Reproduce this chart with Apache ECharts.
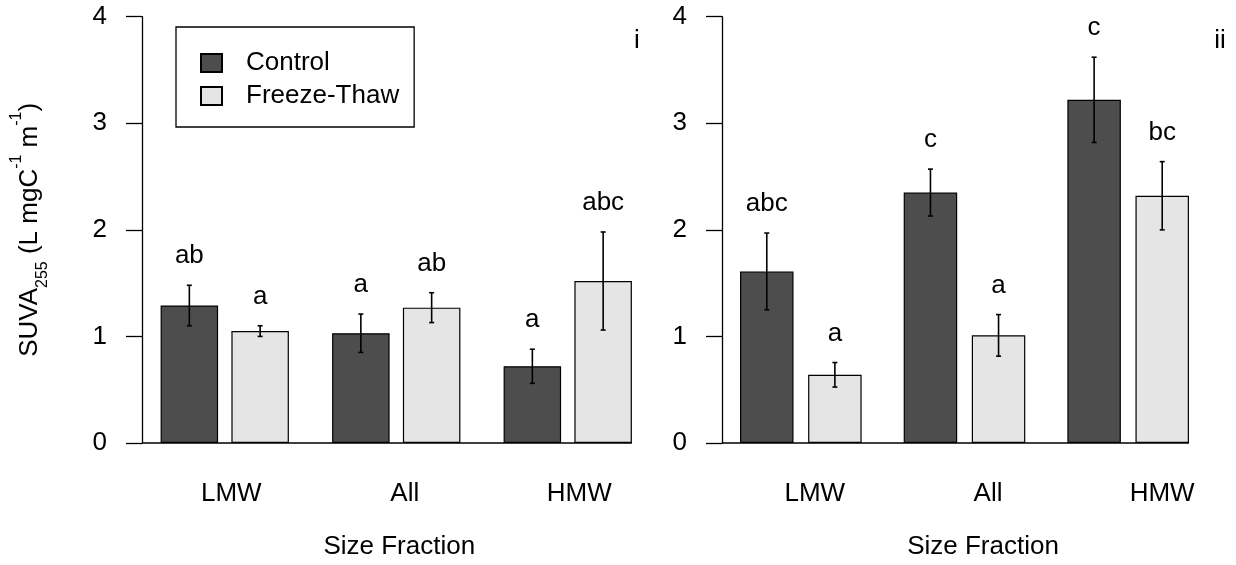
<!DOCTYPE html>
<html>
<head>
<meta charset="utf-8">
<title>SUVA255 by size fraction</title>
<script src="https://cdn.jsdelivr.net/npm/echarts@6/dist/echarts.min.js"></script>
<style>
  html, body { margin: 0; padding: 0; background: #ffffff; }
  #chart { width: 1236px; height: 565px; }
</style>
</head>
<body>
<div id="chart"></div>
<script>
// Size fractions on the x axis and the y tick values
const CATEGORIES = ['LMW', 'All', 'HMW'];
const Y_TICKS = [0, 1, 2, 3, 4];
const SERIES_NAMES = ['Control', 'Freeze-Thaw'];

// Panel i: means, standard errors and significance letters
const CONTROL_I = [1.29, 1.03, 0.72];
const CONTROL_I_SE = [0.19, 0.18, 0.16];
const CONTROL_I_LETTERS = ['ab', 'a', 'a'];
const THAW_I = [1.05, 1.27, 1.52];
const THAW_I_SE = [0.05, 0.14, 0.46];
const THAW_I_LETTERS = ['a', 'ab', 'abc'];

// Panel ii
const CONTROL_II = [1.61, 2.35, 3.22];
const CONTROL_II_SE = [0.36, 0.22, 0.40];
const CONTROL_II_LETTERS = ['abc', 'c', 'c'];
const THAW_II = [0.64, 1.01, 2.32];
const THAW_II_SE = [0.115, 0.195, 0.32];
const THAW_II_LETTERS = ['a', 'a', 'bc'];

const PANEL_TAGS = ['i', 'ii'];

const FONT = "'Liberation Sans', Arial, Helvetica, sans-serif";
const FS = 26;
const COLORS = ['#4d4d4d', '#e5e5e5'];

// Per-panel layout: grid box, bar geometry, label nudges
const PANELS = [
  { left: 139, width: 514.5, barWidth: 57.5, gapPx: 13.3,
    labelPad: [13, 17, 23], namePad: 6, tagX: 637 },
  { left: 719, width: 491, barWidth: 53.5, gapPx: 14.6,
    labelPad: [28, 47, 68], namePad: 37, tagX: 1220 }
];
const GRID_TOP = 16.7;
const GRID_BOTTOM = 121.3;

const chart = echarts.init(document.getElementById('chart'), null, { renderer: 'canvas' });

function xAxisFor(p, gi) {
  const rich = {};
  CATEGORIES.forEach((c, i) => {
    rich['c' + i] = { fontSize: FS, fontFamily: FONT, color: '#000', padding: [0, 0, 0, p.labelPad[i]] };
  });
  return {
    type: 'category', gridIndex: gi, data: CATEGORIES,
    axisLine: { show: false }, axisTick: { show: false },
    axisLabel: {
      margin: 38, interval: 0,
      formatter: (v, i) => '{c' + i + '|' + v + '}',
      rich: rich
    },
    name: 'Size Fraction', nameLocation: 'middle', nameGap: 91,
    nameTextStyle: { fontSize: FS, fontFamily: FONT, color: '#000', padding: [0, 0, 0, p.namePad] }
  };
}

function yAxisFor(gi, withName) {
  const ax = {
    type: 'value', gridIndex: gi, offset: -3,
    min: Y_TICKS[0], max: Y_TICKS[Y_TICKS.length - 1], interval: Y_TICKS[1] - Y_TICKS[0],
    axisLine: { show: true, lineStyle: { color: '#000', width: 1.3 } },
    axisTick: { show: true, length: 16, lineStyle: { color: '#000', width: 1.3 } },
    splitLine: { show: false },
    axisLabel: { margin: 35, fontSize: FS, fontFamily: FONT, color: '#000' }
  };
  if (withName) {
    ax.name = '{n|SUVA}{sub|255}{n| (L mgC}{sup|-1}{n| m}{sup|-1}{n|)}';
    ax.nameLocation = 'middle';
    ax.nameGap = 91;
    ax.nameTextStyle = {
      rich: {
        n: { fontSize: FS, fontFamily: FONT, color: '#000', lineHeight: 42 },
        sub: { fontSize: 16, fontFamily: FONT, color: '#000', lineHeight: 22, verticalAlign: 'bottom' },
        sup: { fontSize: 16, fontFamily: FONT, color: '#000', lineHeight: 16, verticalAlign: 'top' }
      }
    };
  }
  return ax;
}

function barSeries(name, values, gi, p, colorIdx) {
  return {
    type: 'bar', name: name, xAxisIndex: gi, yAxisIndex: gi,
    data: values, barWidth: p.barWidth,
    barGap: (p.gapPx / p.barWidth * 100).toFixed(1) + '%',
    itemStyle: { color: COLORS[colorIdx], borderColor: '#000', borderWidth: 1.2 },
    z: 2
  };
}

// Error bars with caps plus the letter above each bar
function errorSeries(values, se, letters, gi, p, side) {
  const shift = side * (p.barWidth + p.gapPx) / 2;
  return {
    type: 'custom', xAxisIndex: gi, yAxisIndex: gi, z: 5, silent: true,
    data: values.map((v, i) => [i, v, se[i]]),
    renderItem: function (params, api) {
      const i = api.value(0), v = api.value(1), e = api.value(2);
      const top = api.coord([i, v + e]);
      const bot = api.coord([i, v - e]);
      const x = top[0] + shift;
      const cap = 2.5;
      const ls = { stroke: '#000', lineWidth: 1.6 };
      return {
        type: 'group',
        children: [
          { type: 'line', shape: { x1: x, y1: top[1], x2: x, y2: bot[1] }, style: ls },
          { type: 'line', shape: { x1: x - cap, y1: top[1], x2: x + cap, y2: top[1] }, style: ls },
          { type: 'line', shape: { x1: x - cap, y1: bot[1], x2: x + cap, y2: bot[1] }, style: ls },
          { type: 'text', x: x, y: top[1] - 29,
            style: { text: letters[params.dataIndex], fill: '#000', font: FS + 'px ' + FONT,
                     align: 'center', verticalAlign: 'middle' } }
        ]
      };
    }
  };
}

// Base line running from the y axis to the right edge of the last bar
function baseSeries(gi, p) {
  return {
    type: 'custom', xAxisIndex: gi, yAxisIndex: gi, z: 4, silent: true,
    data: [[0, 0]],
    renderItem: function (params, api) {
      const last = CATEGORIES.length - 1;
      const a = api.coord([0, 0]);
      const b = api.coord([last, 0]);
      const half = p.barWidth + p.gapPx / 2;
      const x0 = params.coordSys.x + 3;
      return {
        type: 'line',
        shape: { x1: x0, y1: a[1], x2: b[0] + half, y2: a[1] },
        style: { stroke: '#000', lineWidth: 1.3 }
      };
    }
  };
}

const series = [];
const panelData = [
  [CONTROL_I, CONTROL_I_SE, CONTROL_I_LETTERS, THAW_I, THAW_I_SE, THAW_I_LETTERS],
  [CONTROL_II, CONTROL_II_SE, CONTROL_II_LETTERS, THAW_II, THAW_II_SE, THAW_II_LETTERS]
];
panelData.forEach((d, gi) => {
  const p = PANELS[gi];
  series.push(barSeries(SERIES_NAMES[0], d[0], gi, p, 0));
  series.push(barSeries(SERIES_NAMES[1], d[3], gi, p, 1));
  series.push(errorSeries(d[0], d[1], d[2], gi, p, -1));
  series.push(errorSeries(d[3], d[4], d[5], gi, p, 1));
  series.push(baseSeries(gi, p));
});

const option = {
  animation: false,
  backgroundColor: '#ffffff',
  textStyle: { fontFamily: FONT },
  grid: PANELS.map(p => ({ left: p.left, width: p.width, top: GRID_TOP, bottom: GRID_BOTTOM, containLabel: false })),
  xAxis: PANELS.map((p, gi) => xAxisFor(p, gi)),
  yAxis: [yAxisFor(0, true), yAxisFor(1, false)],
  legend: {
    data: SERIES_NAMES, orient: 'vertical', left: 176, top: 27,
    itemWidth: 21, itemHeight: 18, itemGap: 7,
    padding: [23, 15, 18, 24],
    borderColor: '#000', borderWidth: 1.3, backgroundColor: '#fff',
    icon: 'rect', selectedMode: false,
    textStyle: { fontSize: FS, fontFamily: FONT, color: '#000', padding: [0, 0, 0, 19] }
  },
  graphic: PANELS.map((p, gi) => ({
    type: 'text', x: p.tagX, y: 41,
    style: { text: PANEL_TAGS[gi], fill: '#000', font: FS + 'px ' + FONT, align: 'center', verticalAlign: 'middle' }
  })),
  series: series
};

chart.setOption(option);
</script>
</body>
</html>
